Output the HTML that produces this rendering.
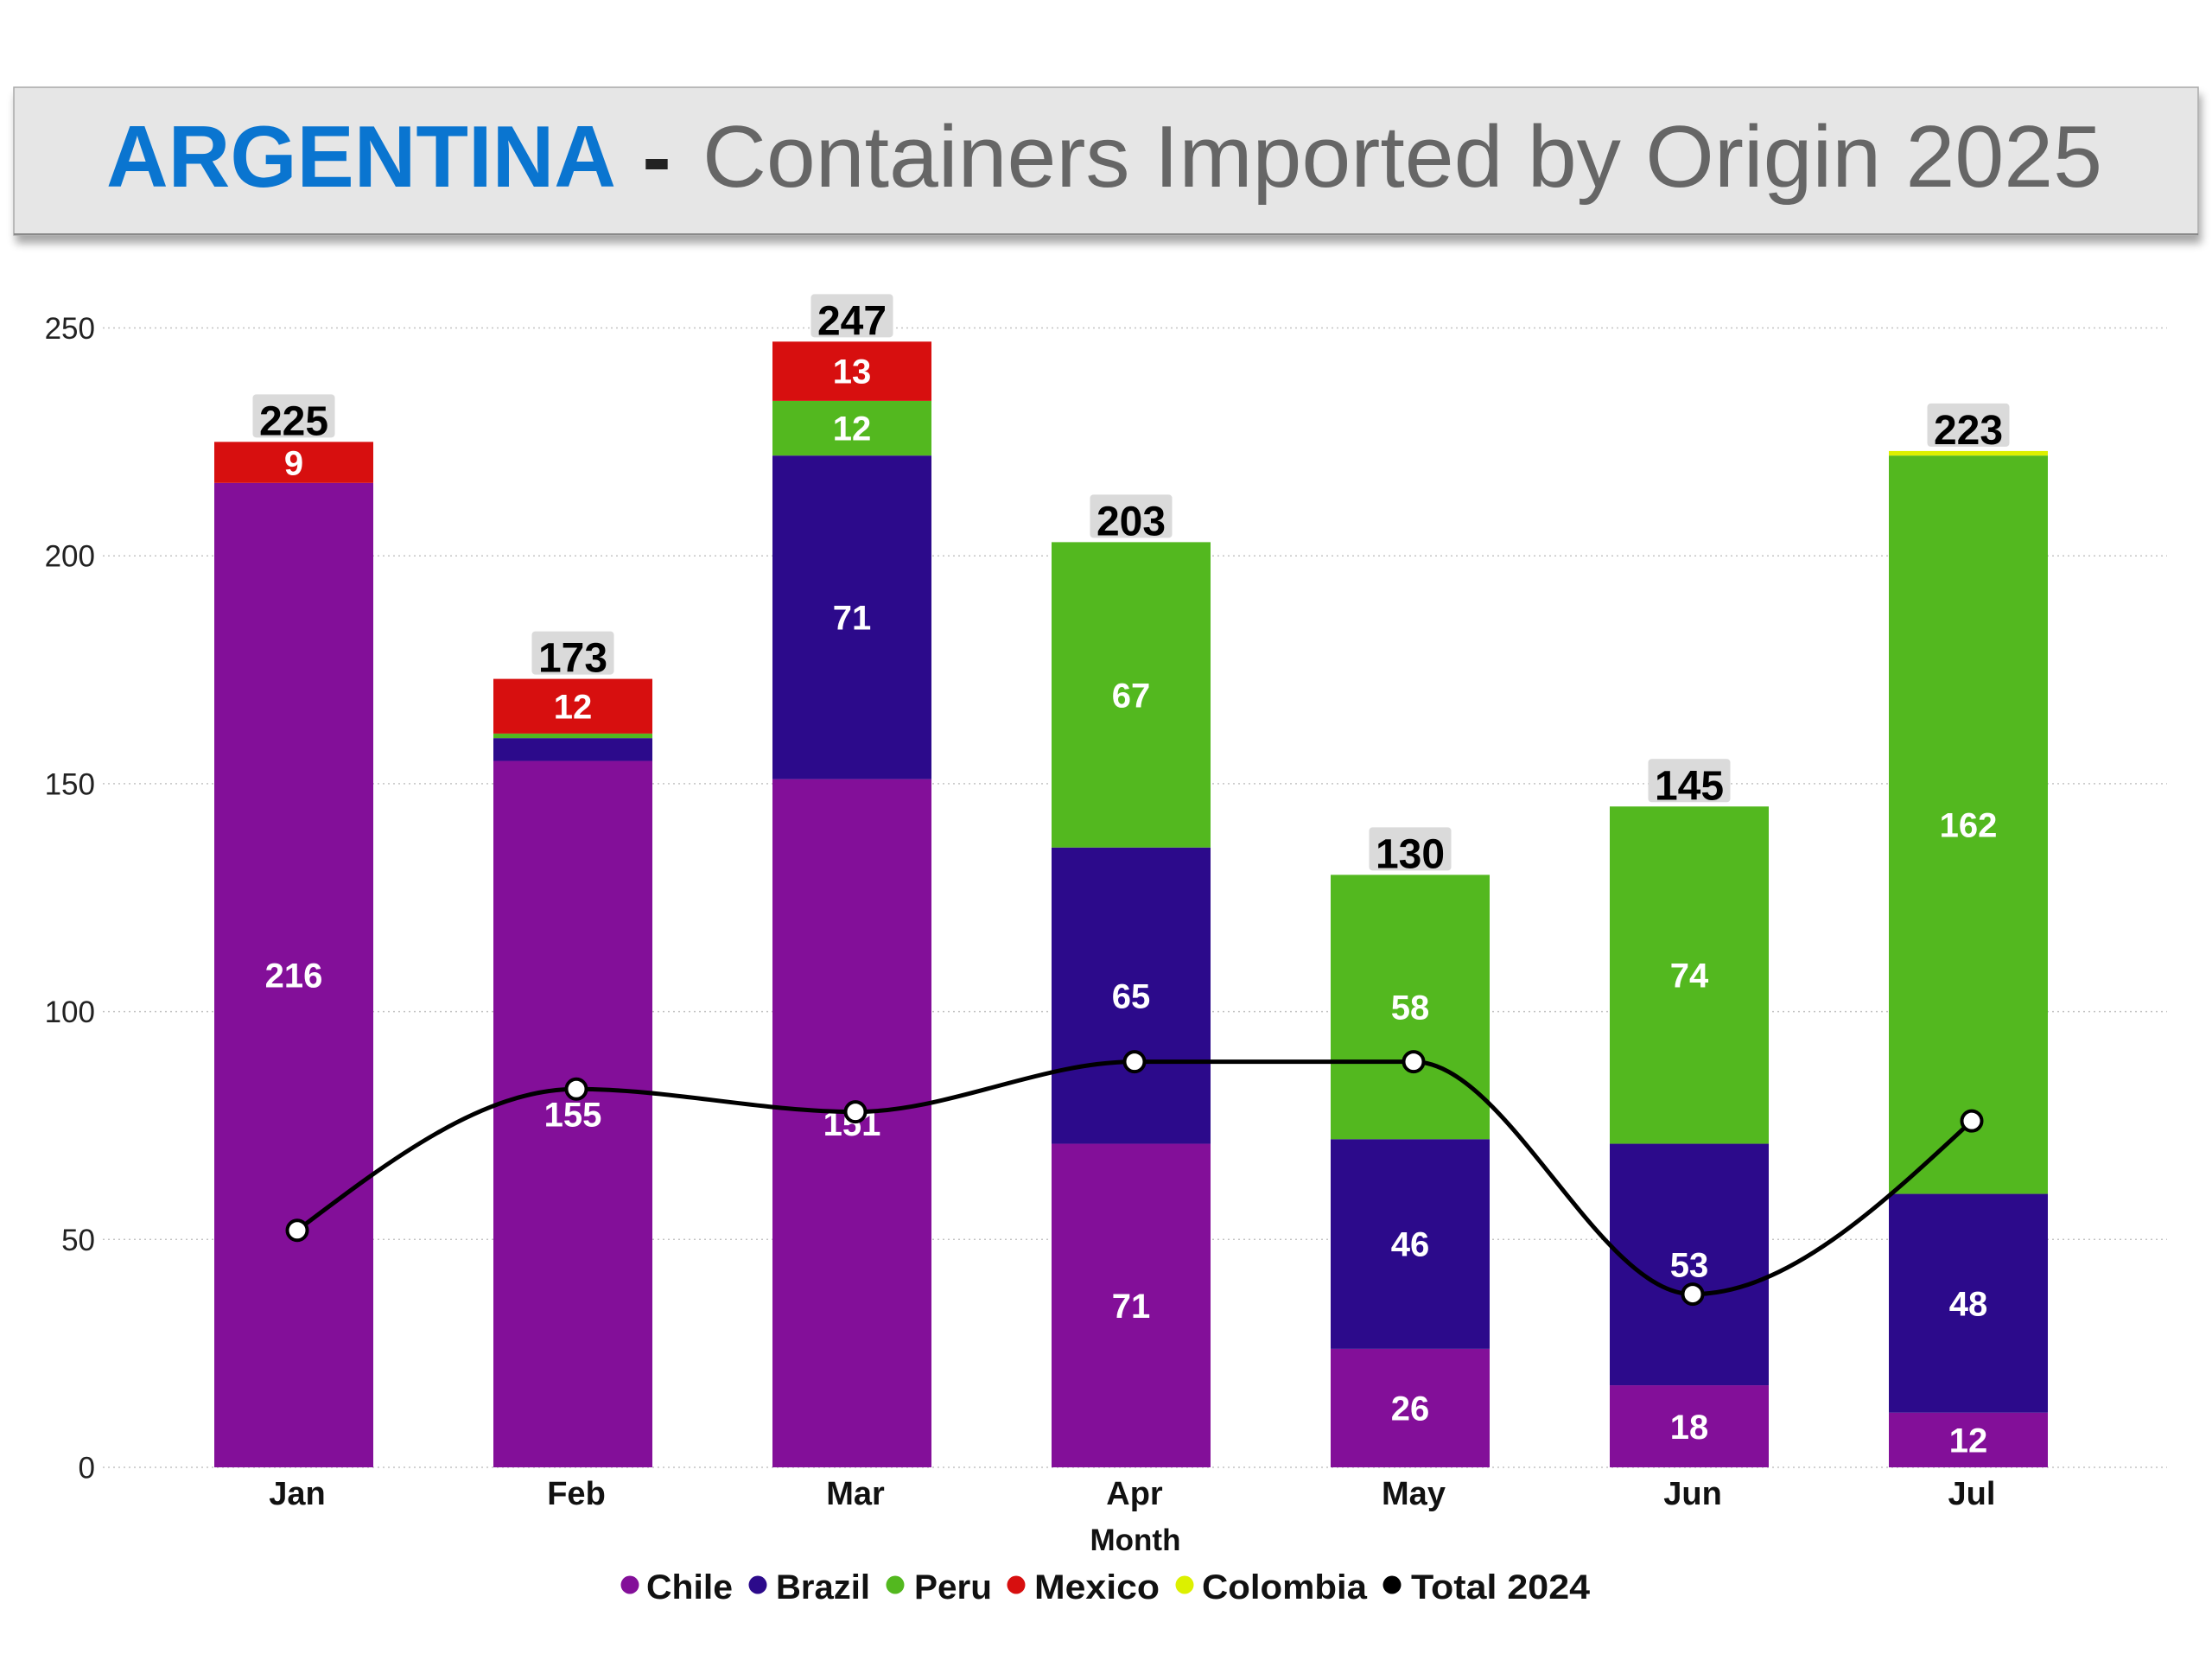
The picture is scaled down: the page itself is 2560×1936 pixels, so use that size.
<!DOCTYPE html>
<html>
<head>
<meta charset="utf-8">
<style>
  html,body{margin:0;padding:0;background:#fff;}
  svg{display:block;}
  text{font-family:"Liberation Sans", Arial, sans-serif;}
</style>
</head>
<body>
<svg width="2560" height="1936" viewBox="0 0 2560 1936" xmlns="http://www.w3.org/2000/svg">
  <defs>
    <filter id="sh" x="-5%" y="-20%" width="110%" height="150%">
      <feGaussianBlur in="SourceAlpha" stdDeviation="5"/>
      <feOffset dx="3" dy="9" result="o"/>
      <feComponentTransfer><feFuncA type="linear" slope="0.35"/></feComponentTransfer>
      <feMerge><feMergeNode/><feMergeNode in="SourceGraphic"/></feMerge>
    </filter>
  </defs>
  <rect width="2560" height="1936" fill="#fff"/>

  <!-- Title -->
  <rect x="16" y="101" width="2528" height="171" fill="#e6e6e6" stroke="#a8a8a8" stroke-width="1.5" filter="url(#sh)"/>
  <line x1="16" y1="271" x2="2544" y2="271" stroke="#8a8a8a" stroke-width="2"/>
  <text x="123" y="216" font-size="101" font-weight="bold" fill="#0a75d0" textLength="590" lengthAdjust="spacingAndGlyphs">ARGENTINA</text>
  <text x="760" y="216" font-size="100" font-weight="bold" fill="#222" text-anchor="middle">-</text>
  <text x="813" y="216" font-size="101" fill="#666666" textLength="1620" lengthAdjust="spacingAndGlyphs">Containers Imported by Origin 2025</text>

  <!-- Gridlines -->
  <g stroke="#c4c4c4" stroke-width="1.5" stroke-dasharray="2 4">
    <line x1="119" y1="379.5" x2="2508" y2="379.5"/>
    <line x1="119" y1="643.2" x2="2508" y2="643.2"/>
    <line x1="119" y1="906.9" x2="2508" y2="906.9"/>
    <line x1="119" y1="1170.6" x2="2508" y2="1170.6"/>
    <line x1="119" y1="1434.3" x2="2508" y2="1434.3"/>
    <line x1="119" y1="1698" x2="2508" y2="1698"/>
  </g>

  <!-- Y labels -->
  <g font-size="35" fill="#222" text-anchor="end">
    <text x="110" y="392">250</text>
    <text x="110" y="655.7">200</text>
    <text x="110" y="919.4">150</text>
    <text x="110" y="1183.1">100</text>
    <text x="110" y="1446.8">50</text>
    <text x="110" y="1710.5">0</text>
  </g>

  <!-- Bars -->
  <!-- Jan -->
  <rect x="248" y="558.82" width="184" height="1139.18" fill="#830f99"/>
  <rect x="248" y="511.35" width="184" height="47.47" fill="#d70f0f"/>
  <!-- Feb -->
  <rect x="571" y="880.53" width="184" height="817.47" fill="#830f99"/>
  <rect x="571" y="854.16" width="184" height="26.37" fill="#2c0a8b"/>
  <rect x="571" y="848.89" width="184" height="5.27" fill="#53b81f"/>
  <rect x="571" y="785.60" width="184" height="63.29" fill="#d70f0f"/>
  <!-- Mar -->
  <rect x="894" y="901.63" width="184" height="796.37" fill="#830f99"/>
  <rect x="894" y="527.17" width="184" height="374.46" fill="#2c0a8b"/>
  <rect x="894" y="463.88" width="184" height="63.29" fill="#53b81f"/>
  <rect x="894" y="395.32" width="184" height="68.56" fill="#d70f0f"/>
  <!-- Apr -->
  <rect x="1217" y="1323.55" width="184" height="374.45" fill="#830f99"/>
  <rect x="1217" y="980.74" width="184" height="342.81" fill="#2c0a8b"/>
  <rect x="1217" y="627.38" width="184" height="353.36" fill="#53b81f"/>
  <!-- May -->
  <rect x="1540" y="1560.88" width="184" height="137.12" fill="#830f99"/>
  <rect x="1540" y="1318.27" width="184" height="242.61" fill="#2c0a8b"/>
  <rect x="1540" y="1012.38" width="184" height="305.89" fill="#53b81f"/>
  <!-- Jun -->
  <rect x="1863" y="1603.07" width="184" height="94.93" fill="#830f99"/>
  <rect x="1863" y="1323.55" width="184" height="279.52" fill="#2c0a8b"/>
  <rect x="1863" y="933.27" width="184" height="390.28" fill="#53b81f"/>
  <!-- Jul -->
  <rect x="2186" y="1634.71" width="184" height="63.29" fill="#830f99"/>
  <rect x="2186" y="1381.56" width="184" height="253.15" fill="#2c0a8b"/>
  <rect x="2186" y="527.17" width="184" height="854.39" fill="#53b81f"/>
  <rect x="2186" y="521.90" width="184" height="5.27" fill="#dcf000"/>

  <!-- Segment labels -->
  <g font-size="40" font-weight="bold" fill="#fff" text-anchor="middle">
    <text x="340" y="1142.5">216</text>
    <text x="340" y="549.5">9</text>
    <text x="663" y="1303.5">155</text>
    <text x="663" y="831.5">12</text>
    <text x="986" y="1314">151</text>
    <text x="986" y="728.5">71</text>
    <text x="986" y="509.5">12</text>
    <text x="986" y="443.5">13</text>
    <text x="1309" y="1525">71</text>
    <text x="1309" y="1166.5">65</text>
    <text x="1309" y="818.5">67</text>
    <text x="1632" y="1643.5">26</text>
    <text x="1632" y="1453.5">46</text>
    <text x="1632" y="1179.5">58</text>
    <text x="1955" y="1665">18</text>
    <text x="1955" y="1477.5">53</text>
    <text x="1955" y="1142.5">74</text>
    <text x="2278" y="1680.5">12</text>
    <text x="2278" y="1522.5">48</text>
    <text x="2278" y="968.5">162</text>
  </g>

  <!-- Total labels -->
  <g fill="#dadada">
    <rect x="292.5" y="456.35" width="95" height="50" rx="4"/>
    <rect x="615.5" y="730.6" width="95" height="50" rx="4"/>
    <rect x="938.5" y="340.32" width="95" height="50" rx="4"/>
    <rect x="1261.5" y="572.38" width="95" height="50" rx="4"/>
    <rect x="1584.5" y="957.38" width="95" height="50" rx="4"/>
    <rect x="1907.5" y="878.27" width="95" height="50" rx="4"/>
    <rect x="2230.5" y="466.9" width="95" height="50" rx="4"/>
  </g>
  <g font-size="48" font-weight="bold" fill="#000" text-anchor="middle">
    <text x="340" y="503.35">225</text>
    <text x="663" y="777.6">173</text>
    <text x="986" y="387.32">247</text>
    <text x="1309" y="619.38">203</text>
    <text x="1632" y="1004.38">130</text>
    <text x="1955" y="925.27">145</text>
    <text x="2278" y="513.9">223</text>
  </g>

  <!-- Total 2024 line -->
  <path d="M344,1423.75 C451.67,1342.05 559.33,1260.26 667,1260.26 C774.67,1260.26 882.33,1286.63 990,1286.63 C1097.67,1286.63 1205.33,1228.61 1313,1228.61 C1420.67,1228.61 1528.33,1228.61 1636,1228.61 C1743.67,1228.61 1851.33,1497.59 1959,1497.59 C2066.67,1497.59 2174.33,1397.4 2282,1297.18" fill="none" stroke="#000" stroke-width="5"/>
  <g fill="#fff" stroke="#000" stroke-width="4">
    <circle cx="344" cy="1423.75" r="11.5"/>
    <circle cx="667" cy="1260.26" r="11.5"/>
    <circle cx="990" cy="1286.63" r="11.5"/>
    <circle cx="1313" cy="1228.61" r="11.5"/>
    <circle cx="1636" cy="1228.61" r="11.5"/>
    <circle cx="1959" cy="1497.59" r="11.5"/>
    <circle cx="2282" cy="1297.18" r="11.5"/>
  </g>

  <!-- X labels -->
  <g font-size="38" font-weight="bold" fill="#111" text-anchor="middle">
    <text x="344" y="1741">Jan</text>
    <text x="667" y="1741">Feb</text>
    <text x="990" y="1741">Mar</text>
    <text x="1313" y="1741">Apr</text>
    <text x="1636" y="1741">May</text>
    <text x="1959" y="1741">Jun</text>
    <text x="2282" y="1741">Jul</text>
  </g>
  <text x="1314" y="1794" font-size="35" font-weight="bold" fill="#111" text-anchor="middle">Month</text>

  <!-- Legend -->
  <circle cx="729" cy="1834" r="10.5" fill="#830f99"/>
  <circle cx="877" cy="1834" r="10.5" fill="#2c0a8b"/>
  <circle cx="1036" cy="1834" r="10.5" fill="#53b81f"/>
  <circle cx="1176" cy="1834" r="10.5" fill="#d70f0f"/>
  <circle cx="1371" cy="1834" r="10.5" fill="#dcf000"/>
  <circle cx="1611" cy="1834" r="10.5" fill="#000"/>
  <g font-size="40" font-weight="bold" fill="#111">
    <text x="748" y="1850" textLength="100" lengthAdjust="spacingAndGlyphs">Chile</text>
    <text x="898" y="1850" textLength="109" lengthAdjust="spacingAndGlyphs">Brazil</text>
    <text x="1058" y="1850" textLength="90" lengthAdjust="spacingAndGlyphs">Peru</text>
    <text x="1197" y="1850" textLength="145" lengthAdjust="spacingAndGlyphs">Mexico</text>
    <text x="1391" y="1850" textLength="191" lengthAdjust="spacingAndGlyphs">Colombia</text>
    <text x="1633" y="1850" textLength="207" lengthAdjust="spacingAndGlyphs">Total 2024</text>
  </g>
</svg>
</body>
</html>
